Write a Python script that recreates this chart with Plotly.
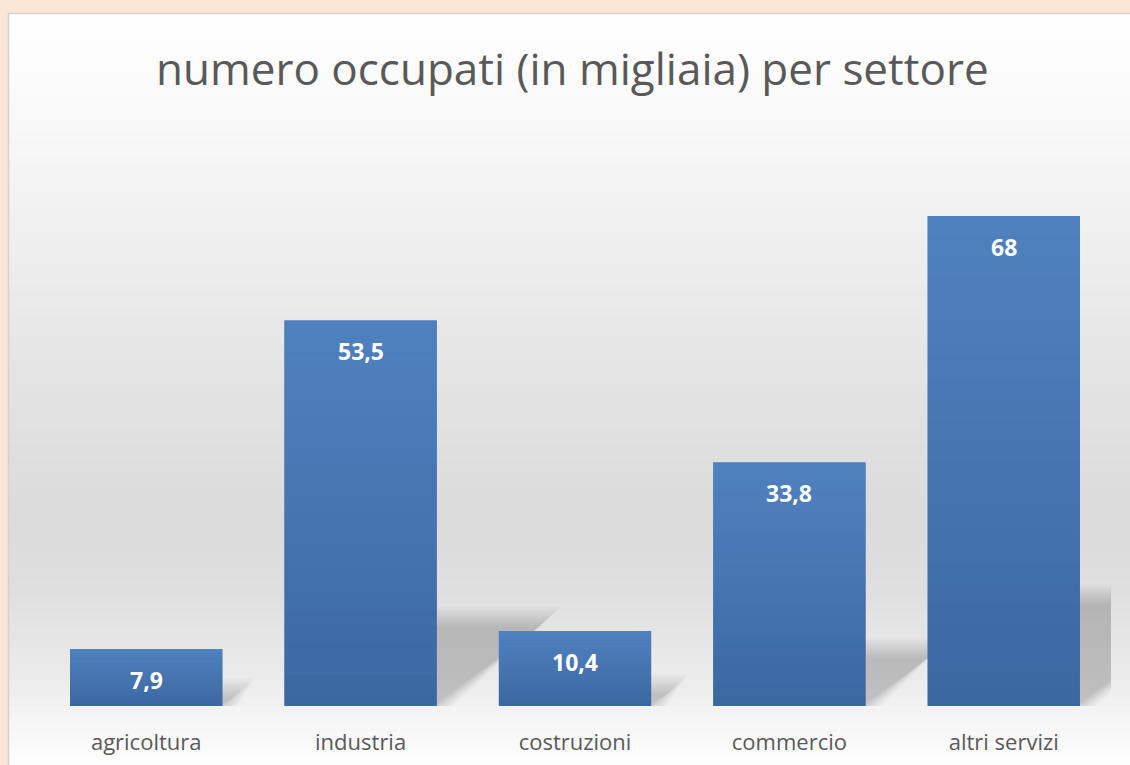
import plotly.graph_objects as go
import numpy as np

categories = ["agricoltura", "industria", "costruzioni", "commercio", "altri servizi"]
values = [7.9, 53.5, 10.4, 33.8, 68]
value_labels = ["7,9", "53,5", "10,4", "33,8", "68"]
title_text = "numero occupati (in migliaia) per settore"

W, H = 1130, 765
ML, MR, MT, MB = 39, 19, 110, 59
PW, PH = W - ML - MR, H - MT - MB
Y_MAX = 82.7
BAR_W = 0.71

def px_to_paper_x(px):
    return (px - ML) / PW

def px_to_paper_y(py):
    return (H - MB - py) / PH

x_idx = list(range(len(categories)))
shapes = []

# panel background with vertical gradient
stops = [(13, 255), (100, 250), (250, 238), (400, 226), (520, 219), (600, 224),
         (680, 236), (720, 246), (765, 253)]
ys = np.linspace(13, 765, 90)
for a, b in zip(ys[:-1], ys[1:]):
    m = (a + b) / 2
    g = int(round(np.interp(m, [s[0] for s in stops], [s[1] for s in stops])))
    shapes.append(dict(type="rect", xref="paper", yref="paper",
                       x0=px_to_paper_x(8), x1=px_to_paper_x(W + 2),
                       y0=px_to_paper_y(b + 0.6), y1=px_to_paper_y(a),
                       fillcolor=f"rgb({g},{g},{g})", line=dict(width=0), layer="below"))
# panel border
shapes.append(dict(type="rect", xref="paper", yref="paper",
                   x0=px_to_paper_x(8.5), x1=px_to_paper_x(W + 5),
                   y0=px_to_paper_y(H + 5), y1=px_to_paper_y(13.5),
                   fillcolor="rgba(0,0,0,0)", line=dict(color="#d2d2d2", width=1.5), layer="below"))

# soft perspective shadows behind bars
unit_px_y = PH / Y_MAX
unit_px_x = PW / len(categories)
for i, v in enumerate(values):
    h = 0.215 * v  # data units
    h_px = h * unit_px_y
    dx = 1.3 * h_px / unit_px_x
    xl, xr = i - BAR_W / 2, i + BAR_W / 2
    for grow in np.linspace(16, -4, 12):
        gy = grow / unit_px_y
        gx = grow / unit_px_x
        path = (f"M {xl},0 L {xr + gx},0 L {xr + dx + gx},{h + gy} "
                f"L {xl + dx},{h + gy} Z")
        shapes.append(dict(type="path", xref="x", yref="y", path=path,
                           fillcolor="rgba(0,0,0,0.015)", line=dict(width=0), layer="below"))

# bar gradient overlay (light top, darker bottom)
top_c = np.array([80, 130, 192])
bot_c = np.array([60, 104, 162])
N = 24
for i, v in enumerate(values):
    for k in range(N):
        t = (k + 0.5) / N
        c = bot_c + (top_c - bot_c) * t
        shapes.append(dict(type="rect", xref="x", yref="y",
                           x0=i - BAR_W / 2, x1=i + BAR_W / 2,
                           y0=v * k / N, y1=v * (k + 1) / N + (0.02 if k < N - 1 else 0),
                           fillcolor=f"rgb({int(c[0])},{int(c[1])},{int(c[2])})",
                           line=dict(width=0), layer="above"))

fig = go.Figure(go.Bar(
    x=x_idx, y=values, width=BAR_W,
    marker=dict(color="#4674B0", line=dict(width=0)),
    hoverinfo="skip",
))

annotations = []
for i, (v, lab) in enumerate(zip(values, value_labels)):
    annotations.append(dict(x=i, y=v, xref="x", yref="y", text=f"<b>{lab}</b>",
                            showarrow=False, yanchor="middle", yshift=-31,
                            font=dict(family="Open Sans", size=23, color="#ffffff")))

annotations.append(dict(x=px_to_paper_x(572), y=px_to_paper_y(68), xref="paper", yref="paper",
                        text=title_text, showarrow=False, xanchor="center", yanchor="middle",
                        font=dict(family="Open Sans", size=44, color="#595959")))

fig.update_layout(
    width=W, height=H,
    margin=dict(l=ML, r=MR, t=MT, b=MB, pad=0, autoexpand=False),
    paper_bgcolor="#FCE6D6",
    plot_bgcolor="rgba(0,0,0,0)",
    showlegend=False,
    shapes=shapes,
    annotations=annotations,
    xaxis=dict(range=[-0.5, len(categories) - 0.5], tickvals=x_idx, ticktext=categories,
               showgrid=False, zeroline=False, showline=False, ticks="",
               automargin=False, ticklabelstandoff=21,
               tickfont=dict(family="Open Sans", size=22, color="#595959")),
    yaxis=dict(range=[0, Y_MAX], visible=False, showgrid=False, zeroline=False,
               automargin=False),
)

fig.write_html("out.html")
